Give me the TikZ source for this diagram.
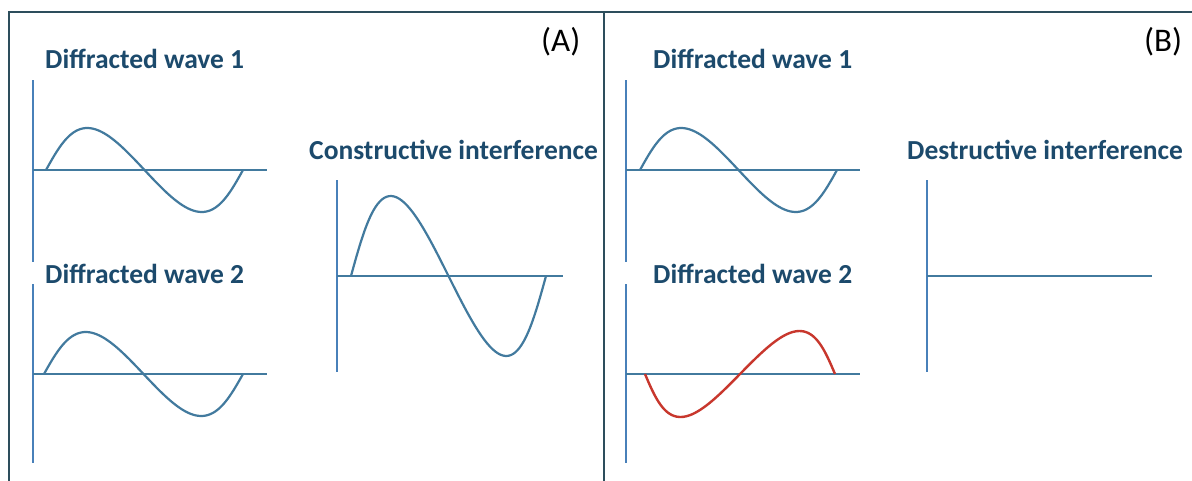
\documentclass[tikz,border=0pt]{standalone}
\usepackage{fontspec}
\setmainfont{Carlito}
\definecolor{framec}{RGB}{45,78,92}
\definecolor{axisc}{RGB}{72,128,185}
\definecolor{wavec}{RGB}{66,122,158}
\definecolor{redw}{RGB}{200,55,45}
\definecolor{titlec}{RGB}{28,74,108}
\tikzset{
  frameline/.style={draw=framec, line width=2pt},
  axisline/.style={draw=axisc, line width=2pt},
  hline/.style={draw=wavec, line width=2pt},
  wave/.style={draw=wavec, line width=2.2pt},
  redwave/.style={draw=redw, line width=2.4pt},
  title/.style={font=\fontsize{27.5}{29}\selectfont\bfseries, text=titlec, inner sep=0pt, anchor=base west},
  tag/.style={font=\fontsize{33}{35}\selectfont, text=black, inner sep=0pt, anchor=base west}
}
\begin{document}
\begin{tikzpicture}[x=1pt,y=-1pt]
\useasboundingbox (0,0) rectangle (1192,480);
\fill[white] (0,0) rectangle (1192,480);
% frame
\draw[frameline] (9,490) -- (9,12) -- (1200,12);
\draw[frameline] (604,12) -- (604,490);
% labels
\node[tag] (tA) at (541,51) {(A)};
\node[tag] (tB) at (1144,51) {(B)};
\node[title] (a1) at (45,68) {Diffracted wave 1};
\node[title] (a2) at (45,283) {Diffracted wave 2};
\node[title] (ac) at (309,159) {Constructive interference};
\node[title] (b1) at (653,68) {Diffracted wave 1};
\node[title] (b2) at (653,283) {Diffracted wave 2};
\node[title] (bd) at (907,159) {Destructive interference};
% Panel A, wave 1
\draw[axisline] (33,80) -- (33,262);
\draw[hline] (33,170) -- (267,170);
\draw[wave] plot[domain=0:360, samples=80, smooth] ({46+\x/360*197-8*sin(\x)},{170-42*sin(\x)});
% Panel A, wave 2
\draw[axisline] (33,284) -- (33,463);
\draw[hline] (33,374) -- (267,374);
\draw[wave] plot[domain=0:360, samples=80, smooth] ({44+\x/360*199-8*sin(\x)},{374-42*sin(\x)});
% Constructive
\draw[axisline] (337,180) -- (337,372);
\draw[hline] (337,276) -- (563,276);
\draw[wave] plot[domain=0:360, samples=80, smooth] ({351+\x/360*195-9*sin(\x)},{276-80*sin(\x)});
% Panel B, wave 1
\draw[axisline] (626,80) -- (626,262);
\draw[hline] (626,170) -- (860,170);
\draw[wave] plot[domain=0:360, samples=80, smooth] ({640+\x/360*197-8*sin(\x)},{170-42*sin(\x)});
% Panel B, wave 2
\draw[axisline] (626,284) -- (626,463);
\draw[hline] (626,374) -- (860,374);
\draw[redwave] plot[domain=0:360, samples=80, smooth] ({645+\x/360*190-12*sin(\x)},{374+43*sin(\x)});
% Destructive
\draw[axisline] (927,180) -- (927,372);
\draw[hline] (927,276) -- (1152,276);
\end{tikzpicture}
\end{document}
